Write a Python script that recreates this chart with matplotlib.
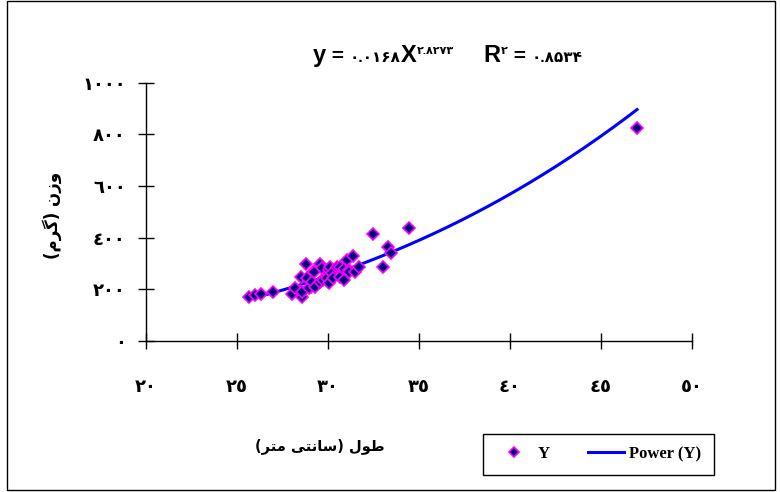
import numpy as np
import matplotlib
matplotlib.use("Agg")
import matplotlib.pyplot as plt
from matplotlib.lines import Line2D
from matplotlib.patches import Rectangle
from matplotlib.ticker import FuncFormatter, FixedLocator

# ---- data ----
lengths = [25.66, 25.99, 26.30, 26.99, 28.00, 28.46, 28.55, 28.50, 28.79, 29.16,
           29.56, 29.07, 28.20, 28.57, 28.85, 28.94, 29.12, 29.30, 29.58, 29.67,
           29.21, 29.93, 29.74, 29.95, 30.04, 30.04, 30.10, 30.22, 30.27, 30.49,
           30.66, 30.68, 30.86, 30.88, 31.06, 31.14, 31.17, 31.36, 31.48, 31.69,
           33.00, 32.46, 33.28, 33.46, 34.47, 46.98]
weights = [171, 178, 182, 189, 182, 195, 171, 247, 297, 266,
           297, 210, 204, 191, 243, 204, 230, 210, 230, 281,
           268, 255, 236, 243, 223, 275, 288, 262, 243, 288,
           288, 249, 236, 277, 314, 275, 266, 329, 266, 288,
           288, 413, 365, 339, 436, 824]
fit_a = 0.0168
fit_b = 2.8273
x_ticks = [20, 25, 30, 35, 40, 45, 50]
y_ticks = [0, 200, 400, 600, 800, 1000]
series_label = "Y"
trend_label = "Power (Y)"

AR_DIG = str.maketrans("0123456789", "\u0660\u0661\u0662\u0663\u0664\u0665\u0666\u0667\u0668\u0669")
FA_DIG = str.maketrans("0123456789", "\u06F0\u06F1\u06F2\u06F3\u06F4\u06F5\u06F6\u06F7\u06F8\u06F9")

# visually ordered, shaped Arabic script labels
xlabel = "(" + "\uFEAE\uFE98\uFEE3" + " " + "\uFEF0\uFE98\uFEE7\uFE8E\uFEB3" + ")" + " " + "\uFEDD\uFEEE\uFEC3"
ylabel = "(" + "\uFEE1\uFEAE\uFB94" + ")" + " " + "\uFEE5\uFEAF\uFEED"

W, H = 780, 492
fig = plt.figure(figsize=(W / 100, H / 100), dpi=100)
def fx(px):
    return px / W
def fy(py):
    return 1 - py / H

ax = fig.add_axes([fx(146), fy(341), fx(692) - fx(146), fy(82.7) - fy(341)])

xf = np.linspace(min(lengths), max(lengths), 200)
ax.plot(xf, fit_a * xf ** fit_b, color="#0000FF", lw=2.2, zorder=2)
ax.plot(lengths, weights, linestyle="none", marker="D", markersize=5.8,
        markerfacecolor="#000080", markeredgecolor="#FF00FF", markeredgewidth=1.2, zorder=3)

ax.set_xlim(20, 50)
ax.set_ylim(0, 1000)
ax.xaxis.set_major_locator(FixedLocator(x_ticks))
ax.yaxis.set_major_locator(FixedLocator(y_ticks))
ax.xaxis.set_major_formatter(FuncFormatter(lambda v, p: str(int(round(v))).translate(AR_DIG)))
ax.yaxis.set_major_formatter(FuncFormatter(lambda v, p: str(int(round(v))).translate(AR_DIG)))
for s in ["top", "right"]:
    ax.spines[s].set_visible(False)
for s in ["left", "bottom"]:
    ax.spines[s].set_linewidth(1.0)
ax.tick_params(axis="both", direction="inout", length=11, width=1.0)
ax.tick_params(axis="x", pad=21)
ax.tick_params(axis="y", pad=9)
for lab in ax.get_xticklabels() + ax.get_yticklabels():
    lab.set_fontfamily(["DejaVu Sans"])
    lab.set_fontweight("bold")
    lab.set_fontsize(13)

fig.text(fx(320), fy(446), xlabel, ha="center", va="center", fontsize=10.5,
         fontweight="bold", family=["DejaVu Sans"])
fig.text(fx(52), fy(215), ylabel, ha="center", va="center", fontsize=12,
         fontweight="bold", family=["DejaVu Sans"], rotation=90)

# title with superscripts
renderer = fig.canvas.get_renderer()
pieces = [
    ("y", 17, 0, 0),
    (" = ", 15, 0, 0),
    (str("0.0168").translate(FA_DIG), 11, 0, 0),
    ("X", 17, 0, 0),
    (str("2.8273").translate(FA_DIG), 8, 8, 0),
    ("R", 17, 0, 30),
    ("2".translate(FA_DIG), 8, 8, 0),
    (" = ", 15, 0, 0),
    (str("0.8534").translate(FA_DIG), 11, 0, 0),
]
xcur = 313
base = 62
for txt, size, dy, gap in pieces:
    xcur += gap
    t = fig.text(fx(xcur), fy(base - dy), txt, ha="left", va="baseline", fontsize=size,
                 fontweight="bold", family=["Liberation Sans", "DejaVu Sans"])
    bb = t.get_window_extent(renderer=renderer)
    xcur += bb.width

handles = [Line2D([], [], linestyle="none", marker="D", markersize=5,
                  markerfacecolor="#000080", markeredgecolor="#FF00FF", markeredgewidth=1.2),
           Line2D([], [], color="#0000FF", lw=2.2)]
leg = fig.legend(handles, [series_label, trend_label], ncol=2, loc="center",
                 bbox_to_anchor=(fx(598.5), fy(454)), frameon=True, fancybox=False,
                 edgecolor="black", framealpha=1, handlelength=2.2, columnspacing=2.3,
                 handletextpad=0.3, borderpad=0.75,
                 prop={"family": "Liberation Serif", "weight": "bold", "size": 12})
leg.get_frame().set_linewidth(1.0)

fig.patches.append(Rectangle((fx(7), fy(490)), fx(775) - fx(7), fy(1) - fy(490),
                             transform=fig.transFigure, fill=False, edgecolor="black", lw=1.0))

fig.savefig("out.png", dpi=100)
